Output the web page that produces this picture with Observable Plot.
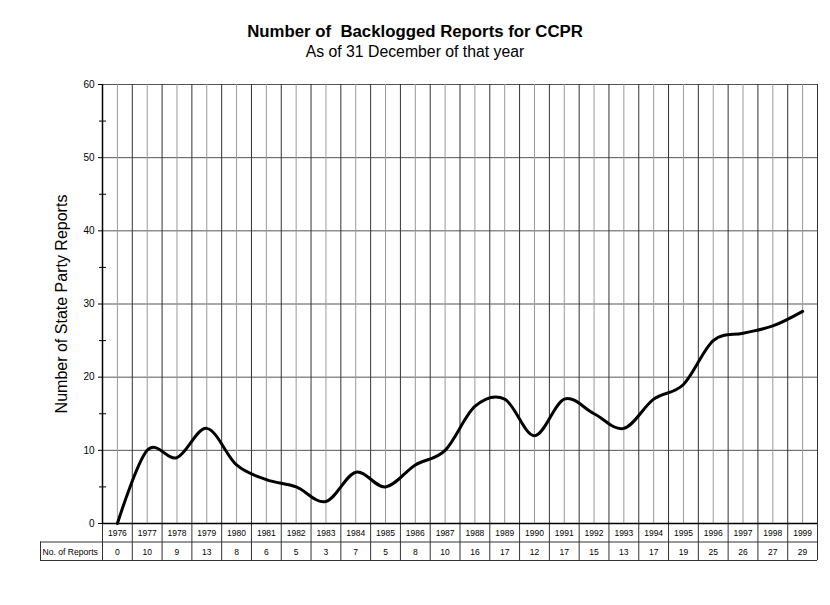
<!DOCTYPE html>
<html><head><meta charset="utf-8">
<script src="https://cdn.jsdelivr.net/npm/d3@7"></script>
<script src="https://cdn.jsdelivr.net/npm/@observablehq/plot@0.6"></script>
<style>
body{margin:0;background:#fff;font-family:"Liberation Sans",Arial,sans-serif;}
#wrap{width:830px;}
#head{height:65px;position:relative;}
#t{position:absolute;left:0;right:0;top:22px;text-align:center;font-weight:bold;font-size:16.8px;white-space:pre;}
#s{position:absolute;left:0;right:0;top:43px;text-align:center;font-size:15.8px;}
</style></head><body>
<div id="wrap">
<div id="head"><div id="t">Number of  Backlogged Reports for CCPR</div><div id="s">As of 31 December of that year</div></div>
<div id="chart"></div>
</div>
<script>
const years = [1976,1977,1978,1979,1980,1981,1982,1983,1984,1985,1986,1987,1988,1989,1990,1991,1992,1993,1994,1995,1996,1997,1998,1999];
const reports = [0,10,9,13,8,6,5,3,7,5,8,10,16,17,12,17,15,13,17,19,25,26,27,29];
const yTicks = [0,10,20,30,40,50,60];
const yMinor = [5,15,25,35,45,55];
const tableLabel = "No. of Reports";
const yLabel = "Number of State Party Reports";

const W = 830, H = 540, mt = 19, mb = 82, ml = 102, mr = 13;
const plotH = H - mt - mb, plotW = W - ml - mr;
const pxPerUnit = plotH / 60;
const rowH = 18.5;
const rowU = rowH / pxPerUnit;
const colW = plotW / years.length;
const x0 = years[0] - 0.5, x1 = years[years.length - 1] + 0.5;
const labelCellX = x0 - 62 / colW;
const boundaries = years.map(y => y - 0.5).concat([x1]);
const data = years.map((y, i) => ({year: y, n: reports[i]}));

const chart = Plot.plot({
  width: W, height: H,
  marginTop: mt, marginBottom: mb, marginLeft: ml, marginRight: mr,
  style: {fontFamily: '"Liberation Sans", Arial, sans-serif', background: "#fff", color: "#000"},
  x: {domain: [x0, x1], axis: null},
  y: {domain: [0, 60]},
  marks: [
    Plot.ruleY(yTicks, {x1: x0, x2: x1, stroke: "#555", strokeWidth: 1}),
    Plot.ruleX(years, {y1: 0, y2: 60, stroke: "#999", strokeWidth: 1}),
    Plot.ruleX(boundaries, {y1: -2 * rowU, y2: 60, stroke: "#333", strokeWidth: 1}),
    Plot.ruleY([-rowU, -2 * rowU], {x1: labelCellX, x2: x1, stroke: "#333", strokeWidth: 1}),
    Plot.ruleX([labelCellX], {y1: -rowU, y2: -2 * rowU, stroke: "#333", strokeWidth: 1}),
    Plot.ruleY([0], {x1: x0, x2: x1, stroke: "#000", strokeWidth: 1.5}),
    Plot.ruleX([x0], {y1: 0, y2: 60, stroke: "#000", strokeWidth: 1.5}),
    Plot.axisY(yMinor, {tickSize: 7, dx: 4, text: null, label: null}),
    Plot.axisY({ticks: yTicks, tickSize: 4, tickPadding: 4, fontSize: 10, label: yLabel, labelAnchor: "center", labelArrow: "none", labelOffset: 47}),
    Plot.text(years, {x: d => d, y: 0, dy: rowH / 2 + 1, text: d => String(d), fontSize: 8.5, fill: "#000"}),
    Plot.text(data, {x: "year", y: 0, dy: rowH * 1.5 + 1, text: d => String(d.n), fontSize: 8.5, fill: "#000"}),
    Plot.text([tableLabel], {x: labelCellX, y: 0, dx: 2, dy: rowH * 1.5 + 1, text: d => d, textAnchor: "start", fontSize: 8.6, fill: "#000"}),
    Plot.line(data, {x: "year", y: "n", curve: "cardinal", tension: 0, stroke: "#000", strokeWidth: 3})
  ]
});
chart.querySelectorAll('g[aria-label="y-axis label"]').forEach(e => e.setAttribute("font-size", "16"));
document.getElementById("chart").appendChild(chart);
</script>
</body></html>
